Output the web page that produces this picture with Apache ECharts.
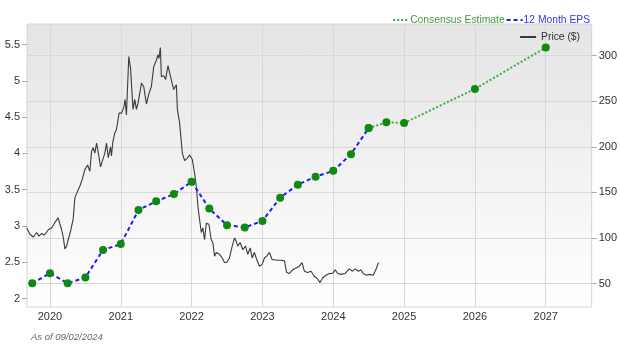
<!DOCTYPE html>
<html><head><meta charset="utf-8">
<script src="https://cdn.jsdelivr.net/npm/echarts@6/dist/echarts.min.js"></script>
<style>html,body{margin:0;padding:0;background:#fff}#c{width:620px;height:349px}</style>
</head><body><div id="c"></div>
<script>
const yearTicks = [2020, 2021, 2022, 2023, 2024, 2025, 2026, 2027];
const epsTicks = [2, 2.5, 3, 3.5, 4, 4.5, 5, 5.5];
const priceTicks = [50, 100, 150, 200, 250, 300];

const epsQuarters = [2019.75, 2020.0, 2020.25, 2020.5, 2020.75, 2021.0, 2021.25, 2021.5, 2021.75, 2022.0,
  2022.25, 2022.5, 2022.75, 2023.0, 2023.25, 2023.5, 2023.75, 2024.0, 2024.25, 2024.5];
const epsValues = [2.21, 2.35, 2.21, 2.29, 2.67, 2.75, 3.22, 3.34, 3.44, 3.61,
  3.24, 3.01, 2.98, 3.07, 3.39, 3.57, 3.68, 3.76, 3.99, 4.35];

const estimateDates = [2024.5, 2024.75, 2025.0, 2026.0, 2027.0];
const estimateValues = [4.35, 4.43, 4.42, 4.89, 5.46];

const priceDates = [2019.672, 2019.718, 2019.765, 2019.813, 2019.845, 2019.883, 2019.920, 2019.976, 2020.024, 2020.070,
  2020.117, 2020.141, 2020.165, 2020.187, 2020.211, 2020.235, 2020.258, 2020.296, 2020.328, 2020.352,
  2020.399, 2020.423, 2020.455, 2020.493, 2020.531, 2020.563, 2020.587, 2020.610, 2020.634, 2020.658,
  2020.690, 2020.714, 2020.775, 2020.799, 2020.824, 2020.855, 2020.869, 2020.887, 2020.915, 2020.939,
  2020.976, 2021.010, 2021.042, 2021.061, 2021.080, 2021.113, 2021.137, 2021.173, 2021.197, 2021.221,
  2021.244, 2021.292, 2021.324, 2021.362, 2021.399, 2021.432, 2021.465, 2021.503, 2021.525, 2021.539,
  2021.559, 2021.573, 2021.606, 2021.634, 2021.666, 2021.700, 2021.728, 2021.746, 2021.785, 2021.799,
  2021.831, 2021.869, 2021.901, 2021.934, 2021.972, 2022.010, 2022.042, 2022.066, 2022.089, 2022.113,
  2022.137, 2022.159, 2022.183, 2022.207, 2022.244, 2022.277, 2022.300, 2022.324, 2022.348, 2022.394,
  2022.432, 2022.465, 2022.497, 2022.535, 2022.573, 2022.606, 2022.630, 2022.652, 2022.686, 2022.723,
  2022.761, 2022.793, 2022.827, 2022.855, 2022.887, 2022.920, 2022.958, 2022.996, 2023.028, 2023.061,
  2023.099, 2023.137, 2023.169, 2023.215, 2023.263, 2023.310, 2023.334, 2023.342, 2023.380, 2023.427,
  2023.475, 2023.521, 2023.559, 2023.592, 2023.638, 2023.686, 2023.732, 2023.779, 2023.813, 2023.849,
  2023.897, 2023.944, 2023.990, 2024.028, 2024.061, 2024.108, 2024.169, 2024.225, 2024.272, 2024.310,
  2024.356, 2024.390, 2024.423, 2024.469, 2024.517, 2024.563, 2024.601, 2024.638];
const priceValues = [111, 104, 101, 106, 102, 105, 103, 109, 111, 117,
  122, 115, 109, 101, 88, 91, 98, 109, 121, 144,
  153, 157, 164, 175, 180, 173, 195, 199, 193, 204,
  190, 178, 193, 204, 188, 200, 190, 205, 215, 219,
  237, 237, 243, 252, 235, 299, 287, 241, 252, 241,
  248, 270, 266, 247, 259, 266, 288, 295, 301, 297,
  309, 277, 278, 274, 289, 278, 277, 263, 268, 241,
  226, 193, 185, 187, 191, 186, 171, 157, 135, 120,
  106, 111, 98, 116, 115, 98, 95, 80, 84, 82,
  78, 73, 73, 78, 91, 100, 96, 91, 95, 87,
  91, 82, 89, 78, 84, 76, 69, 71, 78, 80,
  84, 76, 76, 75.5, 75.5, 75, 75, 62, 61, 65,
  67, 69, 73, 63.5, 62, 63.5, 58, 55, 51, 56,
  59, 61, 61, 65, 61, 60, 61, 66, 63.5, 66,
  63.5, 65, 61, 59, 60, 59, 65, 73];

const zip = (a, b) => a.map((v, i) => [v, b[i]]);
const FONT = 'Liberation Sans, Arial, sans-serif';

const chart = echarts.init(document.getElementById('c'), null, {renderer: 'canvas'});
chart.setOption({
  animation: false,
  title: {
    text: 'As of 09/02/2024', left: 26, top: 327,
    textStyle: {fontSize: 9.5, fontStyle: 'italic', fontWeight: 'normal', color: '#666', fontFamily: FONT}
  },
  legend: [{
    right: 25, top: 10, itemGap: 1, itemWidth: 16, itemHeight: 10,
    itemStyle: {opacity: 0},
    textStyle: {fontSize: 10.3, fontFamily: FONT, padding: [0, 0, 0, -4]},
    data: [
      {name: 'Consensus Estimate', textStyle: {color: '#3c9b3c'}},
      {name: '12 Month EPS', textStyle: {color: '#3434f0'}}
    ]
  }, {
    right: 35, top: 27, itemWidth: 16, itemHeight: 10,
    itemStyle: {opacity: 0},
    textStyle: {fontSize: 10.3, fontFamily: FONT, color: '#333'},
    data: [{name: 'Price ($)'}]
  }],
  grid: {
    left: 27, right: 27, top: 24, bottom: 42, show: true,
    backgroundColor: {type: 'linear', x: 0, y: 0, x2: 0, y2: 1,
      colorStops: [{offset: 0, color: '#e4e4e4'}, {offset: 1, color: '#ffffff'}]},
    borderColor: '#d4d4d4', borderWidth: 1
  },
  xAxis: {
    type: 'value', min: 2019.676, max: 2027.648,
    axisLine: {show: false},
    axisTick: {show: false, customValues: yearTicks},
    axisLabel: {customValues: yearTicks, formatter: v => String(Math.round(v)), margin: 4,
      color: '#333', fontSize: 11, fontFamily: FONT},
    splitLine: {show: true, lineStyle: {color: '#d8d8d8', width: 1}}
  },
  yAxis: [{
    type: 'value', position: 'left', min: 1.883, max: 5.785,
    axisLine: {show: false},
    axisTick: {show: true, length: 5, customValues: epsTicks, lineStyle: {color: '#aaa'}},
    axisLabel: {customValues: epsTicks, margin: 7, color: '#333', fontSize: 11, fontFamily: FONT},
    splitLine: {show: false}
  }, {
    type: 'value', position: 'right', min: 24.2, max: 334.8,
    axisLine: {show: false},
    axisTick: {show: true, length: 5, customValues: priceTicks, lineStyle: {color: '#aaa'}},
    axisLabel: {customValues: priceTicks, margin: 7, color: '#333', fontSize: 11, fontFamily: FONT},
    splitLine: {show: true, lineStyle: {color: '#d8d8d8', width: 1}}
  }],
  series: [{
    name: 'Price ($)', type: 'line', yAxisIndex: 1, data: zip(priceDates, priceValues),
    showSymbol: false, symbol: 'none', lineStyle: {color: '#3a3a3a', width: 1.1}, itemStyle: {color: '#555'}
  }, {
    name: 'Consensus Estimate', type: 'line', yAxisIndex: 0, data: zip(estimateDates, estimateValues),
    symbol: 'circle', symbolSize: 8, itemStyle: {color: '#0f8a0f'},
    lineStyle: {color: '#3aaa3a', width: 2, type: [2, 2]}
  }, {
    name: '12 Month EPS', type: 'line', yAxisIndex: 0, data: zip(epsQuarters, epsValues),
    symbol: 'circle', symbolSize: 8, itemStyle: {color: '#0f8a0f'},
    lineStyle: {color: '#1a1aff', width: 2, type: [4, 3]}
  }]
});
</script></body></html>
